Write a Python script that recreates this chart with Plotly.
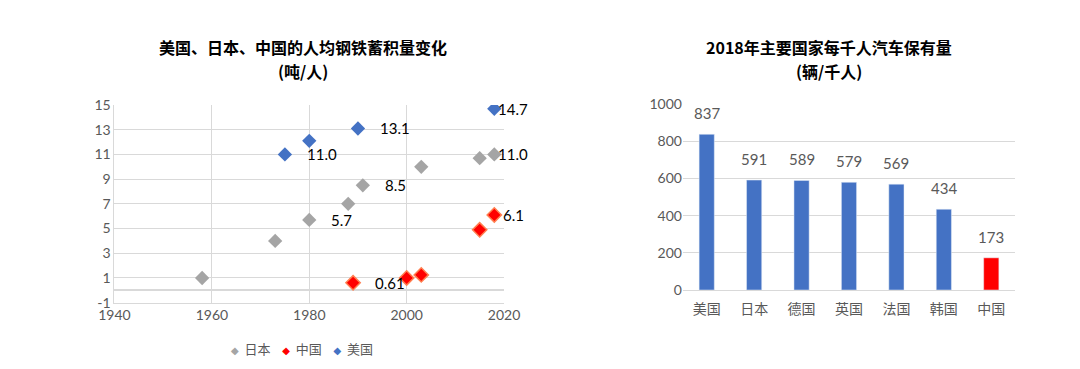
import plotly.graph_objects as go

# ---- Left chart data: per-capita steel stock (t/person) ----
jp_years = [1958, 1973, 1980, 1988, 1991, 2003, 2015, 2018]
jp_vals = [1.0, 4.0, 5.7, 7.0, 8.5, 10.0, 10.7, 11.0]
cn_years = [1989, 2000, 2003, 2015, 2018]
cn_vals = [0.61, 1.0, 1.25, 4.9, 6.1]
us_years = [1975, 1980, 1990, 2018]
us_vals = [11.0, 12.1, 13.1, 14.7]

# labelled points (year, value, text)
lab_years = [1975, 1990, 2018, 1980, 1991, 2018, 1989, 2018]
lab_vals = [11.0, 13.1, 14.7, 5.7, 8.5, 11.0, 0.61, 6.1]
lab_text = ["11.0", "13.1", "14.7", "5.7", "8.5", "11.0", "0.61", "6.1"]
lab_xshift = [20, 20, 2, 20, 20, 2, 20, 7]

left_xticks = [1940, 1960, 1980, 2000, 2020]
left_yticks = [-1, 1, 3, 5, 7, 9, 11, 13, 15]
left_yticklabels = ["-1", "1", "3", "5", "7", "9", "11", "13", "15"]

# ---- Right chart data: cars per 1000 people, 2018 ----
countries = ["美国", "日本", "德国", "英国", "法国", "韩国", "中国"]
cars = [837, 591, 589, 579, 569, 434, 173]
bar_colors = ["#4472C4"] * 6 + ["#FF0000"]
right_yticks = [0, 200, 400, 600, 800, 1000]

FONT = "Lato, 'Noto Sans CJK SC', sans-serif"
CJK = "'Noto Sans CJK SC', sans-serif"
GRAY = "#595959"
GRID = "#D9D9D9"

series = [
    ("日本", jp_years, jp_vals, "#A5A5A5", dict(width=0)),
    ("中国", cn_years, cn_vals, "#FF0000", dict(width=1.5, color="#FF7F50")),
    ("美国", us_years, us_vals, "#4472C4", dict(width=0)),
]

fig = go.Figure()
for name, xs, ys, col, ln in series:
    fig.add_trace(go.Scatter(x=xs, y=ys, mode="markers", name=name, showlegend=False,
                             marker=dict(symbol="diamond", size=11, color=col, line=ln),
                             xaxis="x", yaxis="y"))

# compact legend as one text line
legend_html = "&nbsp;&nbsp;&nbsp;&nbsp;".join(
    '<span style="font-family:DejaVu Sans;font-size:10px;color:%s">◆</span>&nbsp;&nbsp;%s' % (col, name)
    for name, _, _, col, _ in series)
fig.add_annotation(x=302 / 1080, y=1 - 348 / 369, xref="paper", yref="paper",
                   xanchor="center", yanchor="middle", text=legend_html,
                   showarrow=False, font=dict(family=CJK, size=13, color=GRAY))

for xv, yv, t, sh in zip(lab_years, lab_vals, lab_text, lab_xshift):
    fig.add_annotation(x=xv, y=yv, xref="x", yref="y", text=t, showarrow=False,
                       xanchor="left", yanchor="middle", xshift=sh,
                       font=dict(family=FONT, size=15, color="#000000"))

fig.add_trace(go.Bar(x=countries, y=cars, marker=dict(color=bar_colors),
                     showlegend=False, xaxis="x2", yaxis="y2"))
for c, v in zip(countries, cars):
    fig.add_annotation(x=c, y=v, xref="x2", yref="y2", text=str(v), showarrow=False,
                       yanchor="bottom", yshift=10,
                       font=dict(family=FONT, size=15, color=GRAY))

# titles
for xc, line1, line2 in [(0.2806, "美国、日本、中国的人均钢铁蓄积量变化", "(吨/人)"),
                         (0.7676, "2018年主要国家每千人汽车保有量", "(辆/千人)")]:
    fig.add_annotation(x=xc, y=1 - 47 / 369, xref="paper", yref="paper",
                       xanchor="center", yanchor="middle",
                       text="<b>" + line1 + "</b>", showarrow=False,
                       font=dict(family=CJK, size=16, color="#000000"))
    fig.add_annotation(x=xc, y=1 - 71 / 369, xref="paper", yref="paper",
                       xanchor="center", yanchor="middle",
                       text="<b>" + line2 + "</b>", showarrow=False,
                       font=dict(family=CJK, size=16, color="#000000"))

fig.update_layout(
    width=1080, height=369,
    margin=dict(l=0, r=0, t=0, b=0, autoexpand=False),
    paper_bgcolor="white", plot_bgcolor="white",
    showlegend=False,
    bargap=0.68,
    xaxis=dict(domain=[0.106, 0.4667], range=[1940, 2020], tickvals=left_xticks,
               showgrid=True, gridcolor=GRID, zeroline=False, showline=True,
               linecolor=GRID, automargin=False,
               tickfont=dict(family=FONT, size=14, color=GRAY), ticks=""),
    yaxis=dict(domain=[0.1797, 0.7154], range=[-1, 15], tickvals=left_yticks,
               ticktext=left_yticklabels,
               showgrid=True, gridcolor=GRID, zeroline=True, zerolinecolor=GRID,
               showline=True, linecolor=GRID, automargin=False,
               tickfont=dict(family=FONT, size=14, color=GRAY), ticks=""),
    xaxis2=dict(domain=[0.6324, 0.9398], anchor="y2", showgrid=False,
                showline=True, linecolor=GRID, automargin=False,
                ticklabelstandoff=6,
                tickfont=dict(family=CJK, size=14, color=GRAY), ticks=""),
    yaxis2=dict(domain=[0.2141, 0.7182], anchor="x2", range=[0, 1000],
                tickvals=right_yticks, showgrid=True, gridcolor=GRID,
                zeroline=False, showline=False, automargin=False,
                tickfont=dict(family=FONT, size=14, color=GRAY), ticks=""),
)

fig.write_html("out.html", config={"displayModeBar": False},
               post_script="document.body.style.margin='0';")
